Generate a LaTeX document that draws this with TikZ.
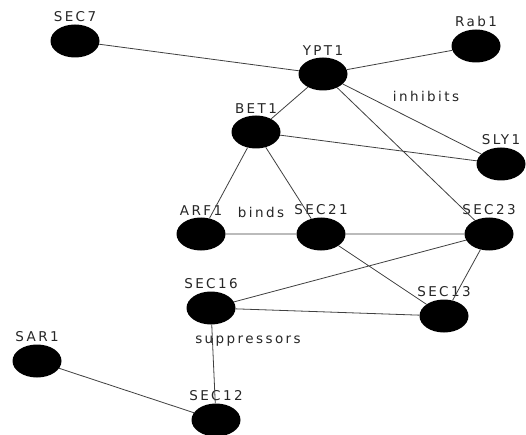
\documentclass[tikz,border=0pt]{standalone}
\usepackage{fontspec}
\newfontfamily\labfont[LetterSpace=18]{DejaVu Sans}
\usetikzlibrary{shapes.geometric}
\tikzset{
  gnode/.style={ellipse, fill=black, draw=none, minimum width=49pt, minimum height=33pt, inner sep=0pt},
  lab/.style={font=\labfont\fontsize{13.5}{15}\selectfont, text=black!85, inner sep=0pt},
  glabel/.style={label={[lab, label distance=2pt]above:{#1}}},
  edge/.style={draw=black!75, line width=0.8pt}
}
\begin{document}
\begin{tikzpicture}[x=1pt,y=-1pt]
\useasboundingbox[fill=white] (0,0) rectangle (526,435);
\path
  (75,41)   node[gnode, glabel=SEC7]  (SEC7)  {}
  (476,46)  node[gnode, glabel=Rab1]  (Rab1)  {}
  (323,74)  node[gnode, glabel=YPT1]  (YPT1)  {}
  (256,132) node[gnode, glabel=BET1]  (BET1)  {}
  (501,164) node[gnode, glabel=SLY1]  (SLY1)  {}
  (201,234) node[gnode, glabel=ARF1]  (ARF1)  {}
  (321,234) node[gnode, glabel=SEC21] (SEC21) {}
  (489,234) node[gnode, glabel=SEC23] (SEC23) {}
  (211,308) node[gnode, glabel=SEC16] (SEC16) {}
  (444,316) node[gnode, glabel=SEC13] (SEC13) {}
  (37,361)  node[gnode, glabel=SAR1]  (SAR1)  {}
  (216,420) node[gnode, glabel=SEC12] (SEC12) {};
\path[edge]
  (SEC7) -- (YPT1)
  (YPT1) -- (Rab1)
  (YPT1) -- (BET1)
  (YPT1) -- (SLY1)
  (YPT1) -- (SEC23)
  (BET1) -- (SLY1)
  (BET1) -- (ARF1)
  (BET1) -- (SEC21)
  (ARF1) -- (SEC21)
  (SEC21) -- (SEC23)
  (SEC21) -- (SEC13)
  (SEC23) -- (SEC16)
  (SEC23) -- (SEC13)
  (SEC16) -- (SEC13)
  (SEC16) -- (SEC12)
  (SAR1) -- (SEC12);
\node[lab] (inh) at (426,96) {inhibits};
\node[lab] (bnd) at (261,212) {binds};
\node[lab] (sup) at (248,341) {suppressors};
\end{tikzpicture}
\end{document}
